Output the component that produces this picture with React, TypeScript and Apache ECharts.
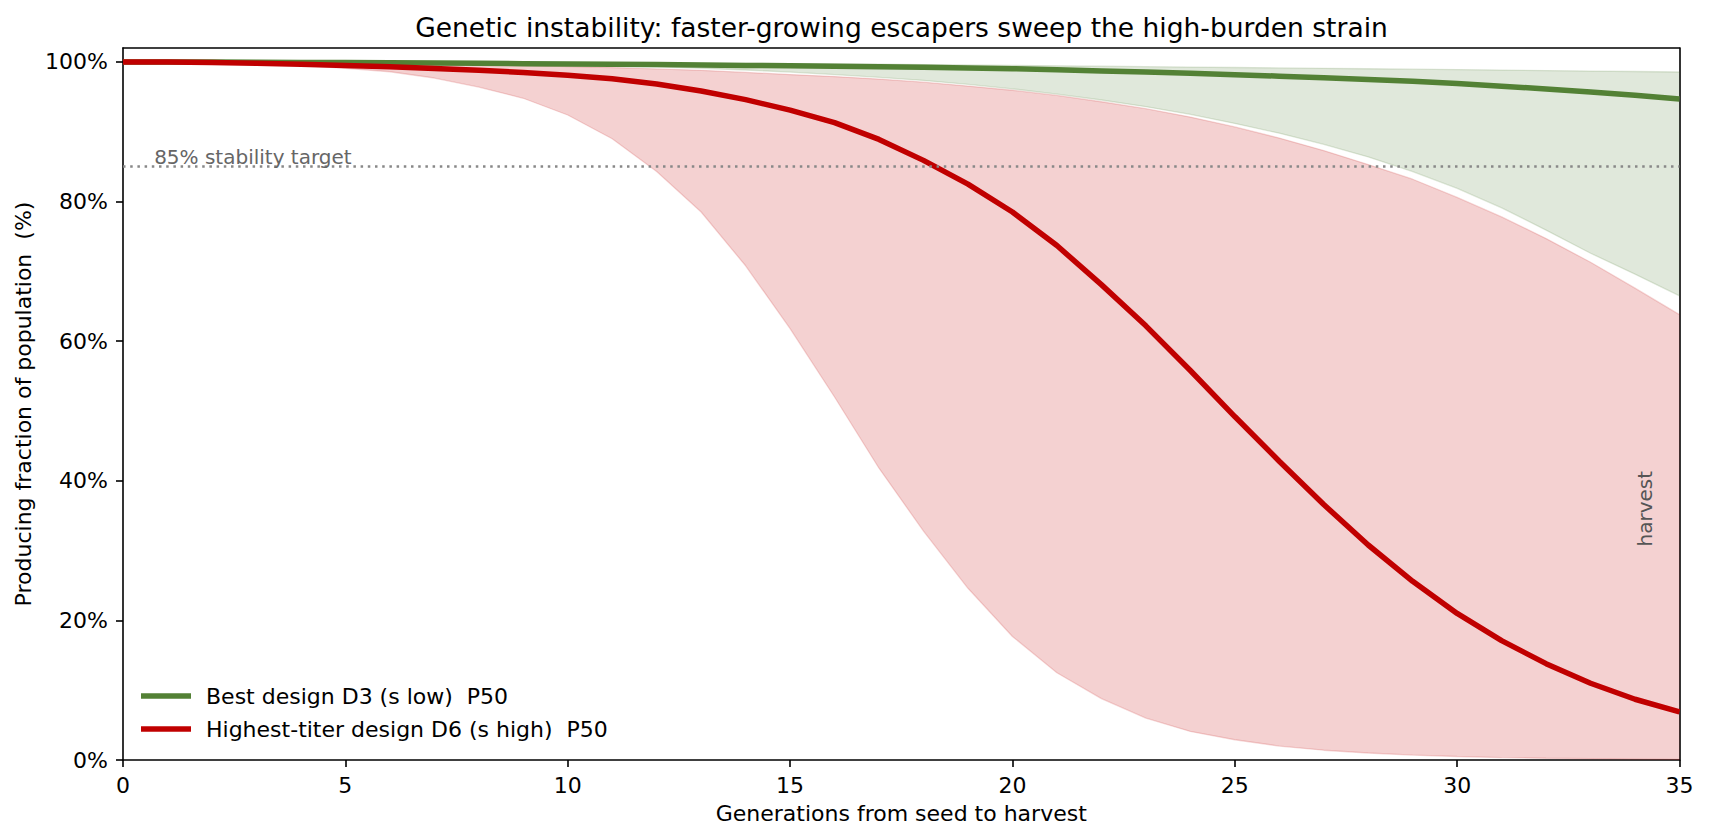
import React, { useEffect, useRef } from 'react';
import * as echarts from 'echarts';

// generations from seed to harvest
const generations = [
  0, 1, 2, 3, 4, 5, 6, 7, 8, 9, 10, 11, 12, 13, 14, 15, 16, 17,
  18, 19, 20, 21, 22, 23, 24, 25, 26, 27, 28, 29, 30, 31, 32, 33, 34, 35,
];

// Best design D3 (s low): producing fraction, %
const bestP50 = [
  100, 99.99, 99.98, 99.96, 99.94, 99.91, 99.88, 99.84, 99.8, 99.76, 99.72, 99.67,
  99.62, 99.56, 99.5, 99.44, 99.38, 99.31, 99.24, 99.15, 99.03, 98.88, 98.72, 98.55,
  98.37, 98.18, 97.97, 97.75, 97.5, 97.22, 96.9, 96.53, 96.13, 95.7, 95.22, 94.7,
];
const bestLow = [
  100, 100, 99.99, 99.98, 99.96, 99.94, 99.9, 99.85, 99.78, 99.7, 99.6, 99.45,
  99.3, 99.1, 98.85, 98.55, 98.2, 97.8, 97.35, 96.8, 96.15, 95.4, 94.55, 93.6,
  92.5, 91.2, 89.8, 88.2, 86.4, 84.3, 81.9, 79.1, 75.9, 72.6, 69.6, 66.5,
];
const bestHigh = [
  100, 100, 100, 100, 100, 99.99, 99.98, 99.97, 99.96, 99.94, 99.92, 99.9,
  99.87, 99.84, 99.8, 99.76, 99.72, 99.67, 99.62, 99.57, 99.51, 99.45, 99.39, 99.33,
  99.27, 99.21, 99.15, 99.09, 99.03, 98.97, 98.91, 98.84, 98.77, 98.7, 98.63, 98.56,
];

// Highest-titer design D6 (s high): producing fraction, %
const titerP50 = [
  100, 99.98, 99.92, 99.82, 99.68, 99.5, 99.3, 99.08, 98.82, 98.5, 98.1, 97.6,
  96.85, 95.85, 94.6, 93.1, 91.3, 88.9, 85.9, 82.5, 78.5, 73.7, 68.1, 62.2,
  55.8, 49.2, 42.8, 36.6, 30.8, 25.6, 21.0, 17.1, 13.8, 11.0, 8.7, 6.9,
];
const titerLow = [
  100, 99.95, 99.85, 99.7, 99.5, 99.1, 98.6, 97.7, 96.4, 94.8, 92.4, 89.0,
  84.3, 78.5, 70.8, 61.8, 52.0, 41.8, 32.8, 24.6, 17.7, 12.5, 8.8, 6.0,
  4.1, 2.9, 2.0, 1.4, 1.0, 0.7, 0.5, 0.35, 0.25, 0.18, 0.12, 0.08,
];
const titerHigh = [
  100, 100, 99.98, 99.95, 99.91, 99.86, 99.8, 99.72, 99.62, 99.5, 99.35, 99.2,
  99.0, 98.8, 98.5, 98.2, 97.9, 97.55, 97.1, 96.55, 95.95, 95.2, 94.3, 93.3,
  92.1, 90.7, 89.1, 87.3, 85.3, 83.2, 80.6, 77.8, 74.7, 71.3, 67.6, 63.8,
];

const yTicks = [0, 20, 40, 60, 80, 100];
const stabilityTarget = 85;

const bestName = 'Best design D3 (s low)  P50';
const titerName = 'Highest-titer design D6 (s high)  P50';

const GREEN = '#538135';
const RED = '#C00000';
const FONT = 'DejaVu Sans';
const FS = 22;

const pairs = (vals: number[]) => generations.map((g, i) => [g, vals[i]]);

// filled band between lo and hi, drawn as one polygon through the axes
const band = (name: string, lo: number[], hi: number[], fill: string) => ({
  name,
  type: 'custom',
  silent: true,
  clip: true,
  z: 2,
  data: generations.map((g, i) => [g, lo[i], hi[i]]),
  encode: { x: 0, y: [1, 2] },
  renderItem: (params: any, api: any) => {
    if (params.dataIndexInside !== 0) return null;
    const n = params.dataInsideLength;
    const upper: number[][] = [];
    const lower: number[][] = [];
    for (let j = 0; j < n; j++) {
      upper.push(api.coord([api.value(0, j), api.value(2, j)]));
      lower.push(api.coord([api.value(0, j), api.value(1, j)]));
    }
    return {
      type: 'polygon',
      shape: { points: upper.concat(lower.reverse()) },
      style: { fill },
    };
  },
});

const App = () => {
  const chartRef = useRef<HTMLDivElement>(null);

  useEffect(() => {
    if (!chartRef.current) return;
    const chart = echarts.init(chartRef.current, null, { renderer: 'svg' });

    const edge = (name: string, vals: number[], color: string) => ({
      name,
      type: 'line',
      data: pairs(vals),
      symbol: 'none',
      silent: true,
      z: 3,
      lineStyle: { color, width: 1.3 },
    });

    const option = {
      animation: false,
      textStyle: { fontFamily: FONT },
      grid: { left: 123, right: 30.5, top: 48, bottom: 80, outerBoundsMode: 'none' },
      graphic: [
        {
          type: 'text',
          x: 901.5,
          y: 27,
          style: {
            text: 'Genetic instability: faster-growing escapers sweep the high-burden strain',
            fontFamily: FONT,
            fontSize: 26.5,
            fill: '#000',
            align: 'center',
            verticalAlign: 'middle',
          },
        },
      ],
      legend: {
        data: [bestName, titerName],
        orient: 'vertical',
        left: 141,
        top: 685,
        padding: 0,
        icon: 'rect',
        itemWidth: 50,
        itemHeight: 5.5,
        itemGap: 11,
        textStyle: { fontFamily: FONT, fontSize: FS, color: '#000', padding: [0, 0, 0, 10] },
      },
      xAxis: [
        {
          type: 'value',
          min: 0,
          max: 35,
          interval: 5,
          name: 'Generations from seed to harvest',
          nameLocation: 'middle',
          nameGap: 42,
          nameTextStyle: { fontFamily: FONT, fontSize: FS, color: '#000' },
          axisLine: { show: true, onZero: false, lineStyle: { color: '#000', width: 1.6 } },
          axisTick: { show: true, inside: false, length: 7, lineStyle: { color: '#000', width: 1.6 } },
          axisLabel: { fontFamily: FONT, fontSize: FS, color: '#000', margin: 14 },
          splitLine: { show: false },
        },
        {
          type: 'value',
          position: 'top',
          min: 0,
          max: 35,
          axisLine: { show: true, onZero: false, lineStyle: { color: '#000', width: 1.6 } },
          axisTick: { show: false },
          axisLabel: { show: false },
          splitLine: { show: false },
        },
      ],
      yAxis: [
        {
          type: 'value',
          min: 0,
          max: 102,
          interval: 20,
          name: 'Producing fraction of population  (%)',
          nameLocation: 'middle',
          nameRotate: 90,
          nameGap: 88,
          nameTextStyle: { fontFamily: FONT, fontSize: FS, color: '#000' },
          axisLine: { show: true, onZero: false, lineStyle: { color: '#000', width: 1.6 } },
          axisTick: {
            show: true,
            inside: false,
            length: 7,
            customValues: yTicks,
            lineStyle: { color: '#000', width: 1.6 },
          },
          axisLabel: {
            fontFamily: FONT,
            fontSize: FS,
            color: '#000',
            margin: 15,
            customValues: yTicks,
            formatter: '{value}%',
          },
          splitLine: { show: false },
        },
        {
          type: 'value',
          position: 'right',
          min: 0,
          max: 102,
          axisLine: { show: true, onZero: false, lineStyle: { color: '#000', width: 1.6 } },
          axisTick: { show: false },
          axisLabel: { show: false },
          splitLine: { show: false },
        },
      ],
      series: [
        band('titerBand', titerLow, titerHigh, 'rgba(192,0,0,0.18)'),
        band('bestBand', bestLow, bestHigh, 'rgba(83,129,53,0.18)'),
        edge('titerLowEdge', titerLow, 'rgba(192,0,0,0.16)'),
        edge('titerHighEdge', titerHigh, 'rgba(192,0,0,0.16)'),
        edge('bestLowEdge', bestLow, 'rgba(83,129,53,0.18)'),
        {
          ...edge('bestHighEdge', bestHigh, 'rgba(83,129,53,0.18)'),
          markLine: {
            silent: true,
            symbol: 'none',
            label: { show: false },
            lineStyle: { color: '#888', width: 2.5, type: [2.5, 4.7] },
            data: [{ yAxis: stabilityTarget }],
          },
          markPoint: {
            silent: true,
            symbol: 'circle',
            symbolSize: 0,
            data: [
              {
                coord: [0.7, 86.4],
                label: {
                  show: true,
                  formatter: '85% stability target',
                  position: 'right',
                  distance: 0,
                  fontFamily: FONT,
                  fontSize: 20,
                  color: '#666',
                },
              },
              {
                coord: [34.22, 36],
                label: {
                  show: true,
                  formatter: 'harvest',
                  position: 'inside',
                  rotate: 90,
                  fontFamily: FONT,
                  fontSize: 20,
                  color: '#555',
                },
              },
            ],
          },
        },
        {
          name: bestName,
          type: 'line',
          data: pairs(bestP50),
          symbol: 'none',
          z: 4,
          color: GREEN,
          itemStyle: { color: GREEN },
          lineStyle: { color: GREEN, width: 5.5 },
        },
        {
          name: titerName,
          type: 'line',
          data: pairs(titerP50),
          symbol: 'none',
          z: 4,
          color: RED,
          itemStyle: { color: RED },
          lineStyle: { color: RED, width: 5.5 },
        },
      ],
    };

    chart.setOption(option as any);

    const handleResize = () => chart.resize();
    window.addEventListener('resize', handleResize);

    return () => {
      window.removeEventListener('resize', handleResize);
      chart.dispose();
    };
  }, []);

  return (
    <div
      ref={chartRef}
      style={{ position: 'fixed', left: 0, top: 0, width: '1710px', height: '840px', background: '#fff' }}
    />
  );
};

export default App;
